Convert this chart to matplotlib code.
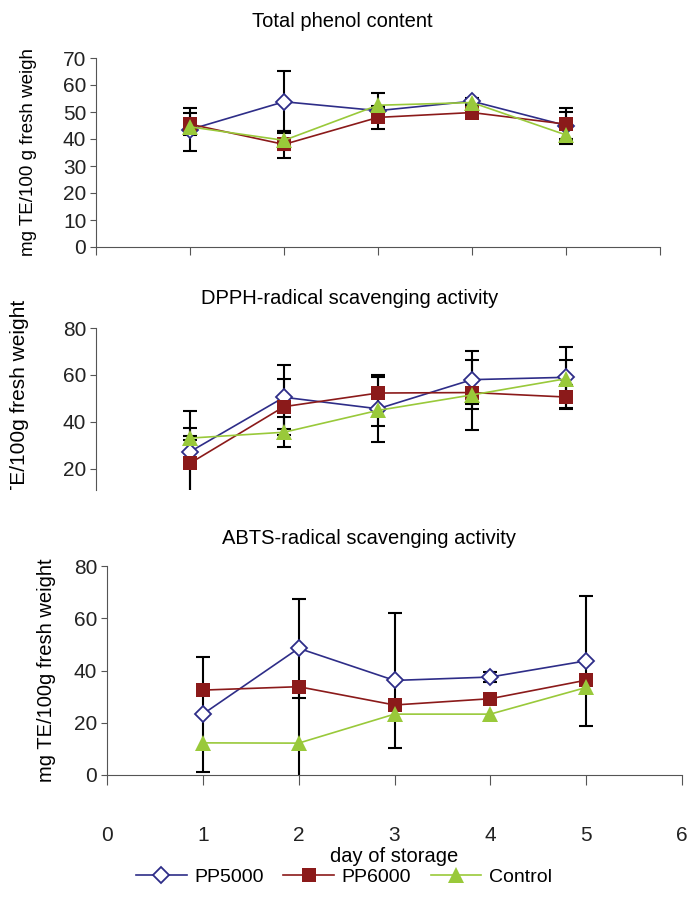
import matplotlib
matplotlib.use("Agg")
import matplotlib.pyplot as plt
from matplotlib.lines import Line2D
from matplotlib.transforms import Bbox, TransformedBbox

plt.rcParams["font.family"] = ["Liberation Sans", "DejaVu Sans"]

days = [1, 2, 3, 4, 5]
series = ["PP5000", "PP6000", "Control"]

# total phenol content
tp_pp5000 = [43.5, 53.8, 50.5, 54.0, 45.0]
tp_pp5000_err = [8.0, 11.5, 0.8, 1.2, 5.0]
tp_pp6000 = [45.5, 38.0, 48.0, 49.8, 45.5]
tp_pp6000_err = [4.0, 5.0, 4.2, 0.8, 5.9]
tp_control = [44.5, 39.5, 52.5, 53.5, 41.5]
tp_control_err = [1.0, 3.5, 4.4, 1.0, 3.5]

# DPPH
dp_pp5000 = [27.3, 50.5, 45.6, 58.0, 59.0]
dp_pp5000_err = [17.5, 13.6, 14.3, 12.3, 13.0]
dp_pp6000 = [22.4, 46.5, 52.3, 52.5, 50.6]
dp_pp6000_err = [15.0, 11.9, 7.0, 5.0, 5.0]
dp_control = [33.1, 35.6, 44.9, 51.5, 58.4]
dp_control_err = [1.0, 6.4, 6.5, 14.8, 8.0]

# ABTS
ab_pp5000 = [23.3, 48.5, 36.2, 37.5, 43.7]
ab_pp5000_err = [22.0, 19.0, 25.8, 2.0, 25.0]
ab_pp6000 = [32.5, 33.8, 26.8, 29.2, 36.3]
ab_pp6000_err = [0, 0, 0, 0, 0]
ab_control = [12.3, 12.2, 23.3, 23.3, 33.5]
ab_control_err = [0, 21.0, 0, 0, 0]

colors = {"PP5000": "#2E2D88", "PP6000": "#8B1A1A", "Control": "#99C93A"}
markers = {"PP5000": dict(marker="D", ms=8.5, mfc="white", mew=1.3),
           "PP6000": dict(marker="s", ms=10, mfc="#8B1A1A", mew=0),
           "Control": dict(marker="^", ms=11, mfc="#99C93A", mew=0)}

W, H = 688, 915
fig = plt.figure(figsize=(W / 100, H / 100), dpi=100)


def px_axes(left, right, top, bottom):
    return fig.add_axes([left / W, (H - bottom) / H, (right - left) / W, (bottom - top) / H])


def draw_panel(ax, data):
    for name, (vals, errs) in zip(series, data):
        keep = [i for i, e in enumerate(errs) if e > 0]
        if keep:
            ax.errorbar([days[i] for i in keep], [vals[i] for i in keep],
                        yerr=[errs[i] for i in keep], fmt="none", ecolor="black",
                        elinewidth=1.5, capsize=5, capthick=1.5, zorder=2)
    for name, (vals, errs) in zip(series, data):
        ax.plot(days, vals, color=colors[name], lw=1.2, mec=colors[name],
                zorder=3, **markers[name])
    for s in ["top", "right"]:
        ax.spines[s].set_visible(False)
    for s in ["left", "bottom"]:
        ax.spines[s].set_color("#555555")
    ax.tick_params(colors="#555555", labelcolor="#222222", labelsize=15)
    ax.tick_params(axis="y", length=4, pad=3)
    ax.set_xlim(0, 6)
    ax.set_xticks(range(7))


# panel 1
ax1 = px_axes(96, 660, 58, 247)
draw_panel(ax1, [(tp_pp5000, tp_pp5000_err), (tp_pp6000, tp_pp6000_err),
                 (tp_control, tp_control_err)])
ax1.set_ylim(0, 70)
ax1.set_yticks(range(0, 71, 10))
ax1.tick_params(axis="x", length=6, labelbottom=False)
ax1.set_ylabel("mg TE/100 g fresh weigh", fontsize=13.5, labelpad=19)
ax1.set_title("Total phenol content", fontsize=14.5, pad=22, x=0.436)

# panel 2 (cut off at the bottom)
ax2 = px_axes(96, 660, 328, 490)
draw_panel(ax2, [(dp_pp5000, dp_pp5000_err), (dp_pp6000, dp_pp6000_err),
                 (dp_control, dp_control_err)])
ax2.set_ylim(11, 80)
ax2.set_yticks([20, 40, 60, 80])
ax2.spines["bottom"].set_visible(False)
ax2.tick_params(axis="x", length=0, labelbottom=False)
ax2.set_ylabel("mg TE/100g fresh weight", fontsize=15)
ax2.yaxis.set_label_coords(-0.118, 0.455)
ax2.yaxis.label.set_clip_box(TransformedBbox(Bbox([[0, (H - 490) / H], [1, 1]]), fig.transFigure))
ax2.yaxis.label.set_clip_on(True)
ax2.set_title("DPPH-radical scavenging activity", fontsize=14.5, pad=17, x=0.45)

# panel 3
ax3 = px_axes(107, 682, 566, 775)
draw_panel(ax3, [(ab_pp5000, ab_pp5000_err), (ab_pp6000, ab_pp6000_err),
                 (ab_control, ab_control_err)])
ax3.set_ylim(0, 80)
ax3.set_yticks([0, 20, 40, 60, 80])
ax3.tick_params(axis="x", length=7, pad=30)
ax3.set_ylabel("mg TE/100g fresh weight", fontsize=14.5, labelpad=13)
ax3.set_xlabel("day of storage", fontsize=14.5, labelpad=1)
ax3.set_title("ABTS-radical scavenging activity", fontsize=14.5, pad=16, x=0.455)

handles = [Line2D([], [], color=colors[n], lw=1.2, mec=colors[n], **markers[n]) for n in series]
fig.legend(handles, series, loc="center", bbox_to_anchor=(0.5, (H - 877) / H), ncol=3,
           frameon=False, fontsize=14, handlelength=2.6, columnspacing=1.0, handletextpad=0.4)

fig.savefig("out.png", dpi=100)
